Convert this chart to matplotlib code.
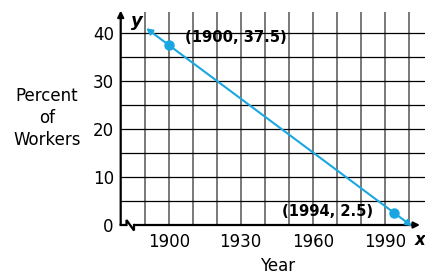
import numpy as np
import matplotlib
matplotlib.use("Agg")
import matplotlib.pyplot as plt

# Data
years = [1900, 1994]
percents = [37.5, 2.5]
point_labels = ["(1900, 37.5)", "(1994, 2.5)"]
x_ticks = [1900, 1930, 1960, 1990]
y_ticks = [0, 10, 20, 30, 40]
x_grid = list(range(1890, 2001, 10))
y_grid = list(range(5, 41, 5))

LINE_C = "#1aa7e1"
FS = 12

fig = plt.figure(figsize=(4.25, 2.75), dpi=100)
W, H = 425, 275
x0_px, y0_px = 120.7, 225.0
px_per_year, px_per_unit = 2.4, 4.8
xmin, ymin = 1880, 0
xmax = xmin + (W - x0_px) / px_per_year
ymax = (y0_px - 12) / px_per_unit
ax = fig.add_axes([x0_px / W, (H - y0_px) / H, (W - x0_px) / W, (y0_px - 12) / H])
ax.set_xlim(xmin, xmax)
ax.set_ylim(ymin, ymax)
for s in ax.spines.values():
    s.set_visible(False)

ax.set_xticks(x_ticks)
ax.set_xticks(x_grid, minor=True)
ax.set_yticks(y_ticks)
ax.set_yticks(y_grid, minor=True)
ax.tick_params(which="both", length=0)
ax.tick_params(axis="x", which="major", labelsize=FS, pad=6)
ax.tick_params(axis="y", which="major", labelsize=FS, pad=5)
ax.grid(False)
for gx in x_grid:
    ax.axvline(gx, color="#6e6e6e", lw=1.3, zorder=1)
for gy in y_grid:
    ax.axhline(gy, color="black", lw=0.9, zorder=1)

# axes with arrows
ax.annotate("", xy=(xmin, ymax + 0.3), xytext=(xmin, 0),
            arrowprops=dict(arrowstyle="-|>", color="black", lw=1.6,
                            mutation_scale=9, shrinkA=0, shrinkB=0),
            annotation_clip=False, zorder=5)
# x-axis with break
def d(px, py):
    return xmin + (px - x0_px) / px_per_year, (y0_px - py) / px_per_unit
zz = [d(120.7, 225), d(126.5, 225), d(126.5, 220), d(134, 230.5), d(134, 225)]
ax.plot([p[0] for p in zz], [p[1] for p in zz], color="black", lw=1.6,
        clip_on=False, zorder=5, solid_joinstyle="miter")
ax.annotate("", xy=(d(420, 225)[0], 0), xytext=(zz[-1][0], 0),
            arrowprops=dict(arrowstyle="-|>", color="black", lw=1.6,
                            mutation_scale=9, shrinkA=0, shrinkB=0),
            annotation_clip=False, zorder=5)

# fitted line through the two points, extended with arrows
m, b = np.polyfit(years, percents, 1)
xa, xb = 1890.6, 2001.4
ax.annotate("", xy=(xa, m * xa + b), xytext=(xb, m * xb + b),
            arrowprops=dict(arrowstyle="<|-|>", color=LINE_C, lw=1.5,
                            mutation_scale=9, shrinkA=0, shrinkB=0),
            zorder=6, annotation_clip=False)
ax.plot(years, percents, "o", color=LINE_C, ms=6.5, zorder=7, clip_on=False)

ax.text(1906.8, 39.0, point_labels[0], fontsize=11.8, fontweight="bold",
        fontstretch="condensed", ha="left", va="center", zorder=8)
ax.text(1985.2, 2.8, point_labels[1], fontsize=11.8, fontweight="bold",
        fontstretch="condensed", ha="right", va="center", zorder=8)

fig.text(131 / W, 1 - 21 / H, "y", fontsize=13, fontweight="bold",
         style="italic", ha="left", va="center")
fig.text(415 / W, 1 - 240 / H, "x", fontsize=12, fontweight="bold",
         style="italic", ha="left", va="center")

fig.text(47 / W, 1 - 118 / H, "Percent\nof\nWorkers", fontsize=FS,
         ha="center", va="center", linespacing=1.3)
fig.text(278 / W, 1 - 266 / H, "Year", fontsize=FS, ha="center", va="center")

fig.savefig("out.png", dpi=100)
